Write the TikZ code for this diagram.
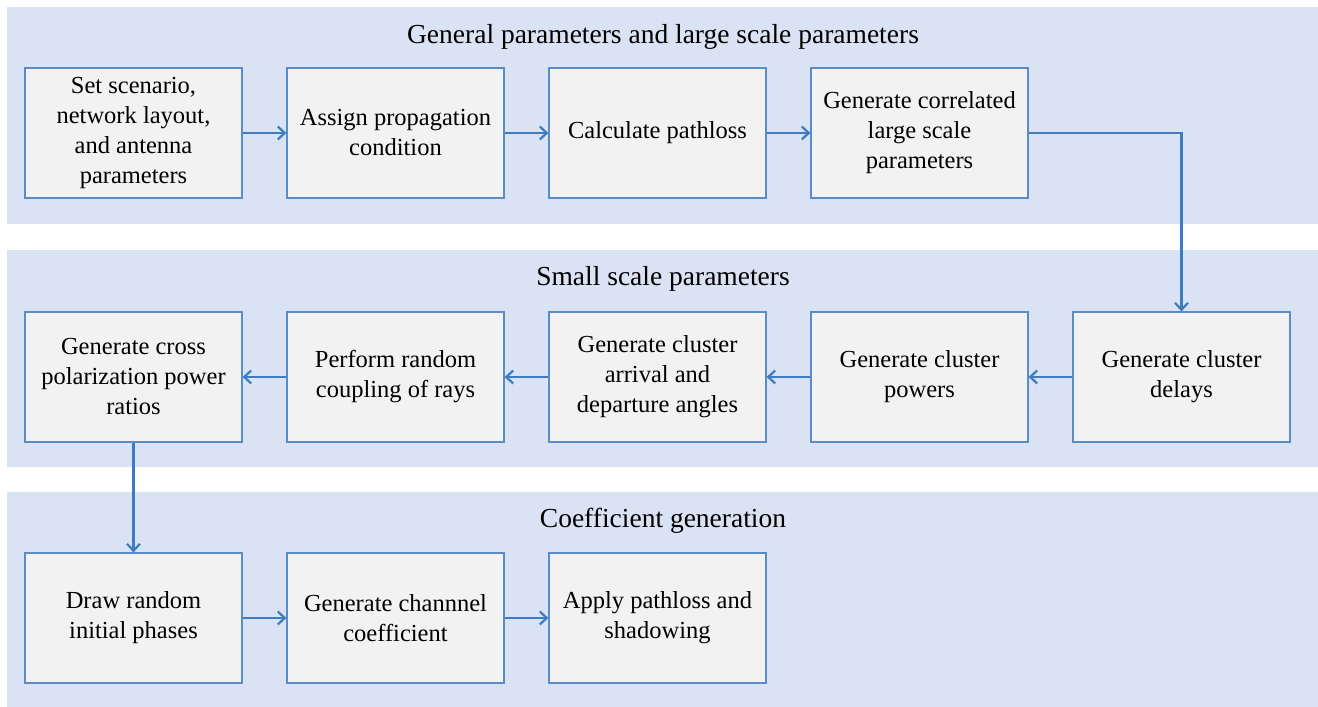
\documentclass[tikz,border=0pt]{standalone}
\usepackage{fontspec}
\setmainfont{Liberation Serif}[Ligatures=TeX]
\usetikzlibrary{arrows.meta}
\definecolor{bandblue}{HTML}{DAE3F3}
\definecolor{boxgray}{HTML}{F2F2F2}
\definecolor{boxline}{HTML}{5B8CC8}
\definecolor{arrowblue}{HTML}{3D7CC1}
\begin{document}
\begin{tikzpicture}[x=1pt, y=1pt]
    % Define node styles
    \tikzstyle{stepbox}=[rectangle, fill=boxgray, draw=boxline, line width=1.2pt, minimum width=217pt, minimum height=130pt, align=center, font=\rmfamily\fontsize{24.5}{30}\selectfont, inner sep=0pt]
    \tikzstyle{bandtitle}=[font=\rmfamily\fontsize{27.5}{30}\selectfont]
    \tikzstyle{flow}=[-{Straight Barb[length=7pt, width=13pt]}, line width=2.2pt, draw=arrowblue]

    \useasboundingbox (0, 0) rectangle (1318, 707);

    % Background bands
    \fill[bandblue] (7, 483) rectangle (1318, 700);
    \fill[bandblue] (7, 240) rectangle (1318, 457);
    \fill[bandblue] (7, 0) rectangle (1318, 215);

    \node[bandtitle] (title1) at (663, 670) {General parameters and large scale parameters};
    \node[bandtitle] (title2) at (663, 428) {Small scale parameters};
    \node[bandtitle] (title3) at (663, 186) {Coefficient generation};

    % Top level: general and large scale parameters
    \node[stepbox] (p1) at (133.5, 574) {Set scenario,\\network layout,\\and antenna\\parameters};
    \node[stepbox] (p2) at (395.5, 574) {Assign propagation\\condition};
    \node[stepbox] (p3) at (657.5, 574) {Calculate pathloss};
    \node[stepbox] (p4) at (919.5, 574) {Generate correlated\\large scale\\parameters};

    % Middle level: small scale parameters
    \node[stepbox] (s5) at (1181.5, 330) {Generate cluster\\delays};
    \node[stepbox] (s4) at (919.5, 330) {Generate cluster\\powers};
    \node[stepbox] (s3) at (657.5, 330) {Generate cluster\\arrival and\\departure angles};
    \node[stepbox] (s2) at (395.5, 330) {Perform random\\coupling of rays};
    \node[stepbox] (s1) at (133.5, 330) {Generate cross\\polarization power\\ratios};

    % Bottom level: coefficient generation
    \node[stepbox] (c1) at (133.5, 89) {Draw random\\initial phases};
    \node[stepbox] (c2) at (395.5, 89) {Generate channnel\\coefficient};
    \node[stepbox] (c3) at (657.5, 89) {Apply pathloss and\\shadowing};

    % Arrows
    \draw[flow] (p1) -- (p2);
    \draw[flow] (p2) -- (p3);
    \draw[flow] (p3) -- (p4);
    \draw[flow] (p4.east) -| (s5.north);
    \draw[flow] (s5) -- (s4);
    \draw[flow] (s4) -- (s3);
    \draw[flow] (s3) -- (s2);
    \draw[flow] (s2) -- (s1);
    \draw[flow] (s1) -- (c1);
    \draw[flow] (c1) -- (c2);
    \draw[flow] (c2) -- (c3);

\end{tikzpicture}
\end{document}
